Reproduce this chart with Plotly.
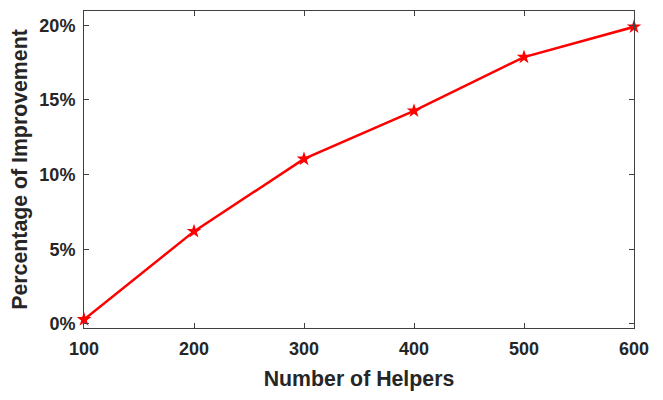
import plotly.graph_objects as go

helpers = [100, 200, 300, 400, 500, 600]
improvement = [0.3, 6.2, 11.05, 14.27, 17.87, 19.9]
y_ticks = [0, 5, 10, 15, 20]
y_tick_labels = ["0%", "5%", "10%", "15%", "20%"]

FONT = "Liberation Sans, Arial"

fig = go.Figure()
fig.add_trace(go.Scatter(
    x=helpers, y=improvement, mode="lines+markers",
    line=dict(color="#ff0000", width=2.5),
    marker=dict(symbol="star", size=11, color="#ff0000"),
    showlegend=False, cliponaxis=False,
))

axis_common = dict(
    showline=True, linecolor="#404040", linewidth=1, mirror="ticks",
    ticks="inside", ticklen=5, tickcolor="#404040", showgrid=False, zeroline=False,
    automargin=False,
    tickfont=dict(family=FONT, size=18, color="#262626", weight="bold"),
)

fig.update_layout(
    width=655, height=392,
    margin=dict(l=76, r=29, t=3, b=72),
    paper_bgcolor="white", plot_bgcolor="white",
    xaxis=dict(range=[100, 600], tickvals=helpers, ticklabelstandoff=4,
               title=dict(text="Number of Helpers", standoff=13,
                          font=dict(family=FONT, size=21.3, color="#262626", weight="bold")),
               **axis_common),
    yaxis=dict(range=[-0.27, 20.96], tickvals=y_ticks, ticktext=y_tick_labels, ticklabelstandoff=4,
               title=dict(text="Percentage of Improvement", standoff=6,
                          font=dict(family=FONT, size=21.3, color="#262626", weight="bold")),
               **axis_common),
)

fig.write_html("out.html")
